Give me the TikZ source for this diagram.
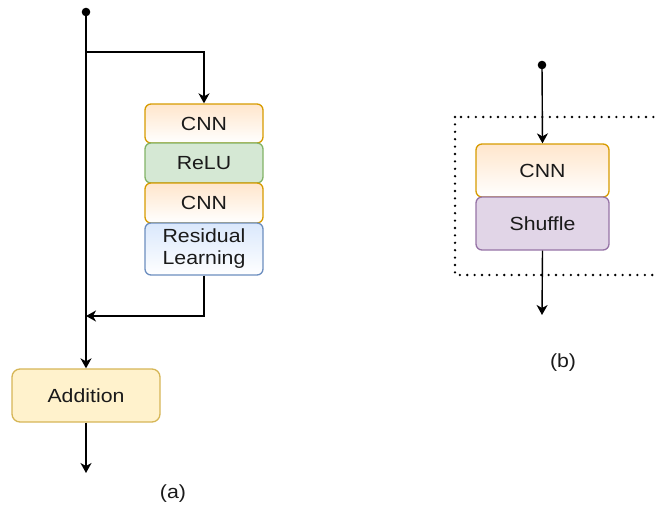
\documentclass[tikz,border=0pt]{standalone}
\usepackage{fontspec}
\setmainfont{Liberation Sans}
\usetikzlibrary{arrows.meta}
\definecolor{orF}{HTML}{FFE6CC}\definecolor{orS}{HTML}{D79B00}
\definecolor{grF}{HTML}{D5E8D4}\definecolor{grS}{HTML}{82B366}
\definecolor{blF}{HTML}{DAE8FC}\definecolor{blS}{HTML}{6C8EBF}
\definecolor{yeF}{HTML}{FFF2CC}\definecolor{yeS}{HTML}{D6B656}
\definecolor{puF}{HTML}{E1D5E7}\definecolor{puS}{HTML}{9673A6}
\definecolor{txt}{HTML}{1A1A1A}
\newcommand{\widetxt}[1]{\scalebox{1.12}[1]{#1}}
\begin{document}
\begin{tikzpicture}[x=1pt,y=-1pt,
  blk/.style={rectangle,rounded corners=6pt,line width=1.3pt,inner sep=0pt,
     font=\fontsize{19}{22}\selectfont,align=center,text=txt},
  orbox/.style={blk,draw=orS,top color=orF,bottom color=white},
  grbox/.style={blk,draw=grS,fill=grF},
  blbox/.style={blk,draw=blS,top color=blF,bottom color=white},
  yebox/.style={blk,draw=yeS,fill=yeF,rounded corners=8pt},
  pubox/.style={blk,draw=puS,fill=puF},
  con/.style={line width=1.4pt,-{Stealth[length=10pt,width=11pt,inset=3pt]}},
  lab/.style={font=\fontsize{19}{22}\selectfont,text=txt}]
\useasboundingbox (0,0) rectangle (656,511);
\clip (0,0) rectangle (656,511);
% (a)
\node[orbox,minimum width=118pt,minimum height=39pt] (cnn1) at (204,123.5) {\widetxt{CNN}};
\node[grbox,minimum width=118pt,minimum height=40pt] (relu) at (204,163) {\widetxt{ReLU}};
\node[orbox,minimum width=118pt,minimum height=40pt] (cnn2) at (204,203) {\widetxt{CNN}};
\node[blbox,minimum width=118pt,minimum height=52pt] (res) at (204,249) {\widetxt{Residual}\\\widetxt{Learning}};
\node[yebox,minimum width=148pt,minimum height=53pt] (add) at (86,395.5) {\widetxt{Addition}};
\coordinate (src) at (86,12);
\coordinate (split) at (86,52);
\coordinate (merge) at (86,316);
\coordinate (out) at (86,473);
\fill (src) circle (4.3pt);
\draw[con] (src) -- (add.north);
\draw[con] (split) -| (cnn1.north);
\draw[con] (res.south) |- (merge);
\draw[con] (add.south) -- (out);
\node[lab] (la) at (173,494) {\widetxt{(a)}};
% (b)
\draw[line width=2.6pt,dash pattern=on 0pt off 7.4pt,line cap=round] (455,117) rectangle (670,275);
\node[orbox,minimum width=133pt,minimum height=53pt] (cnnb) at (542.5,170.5) {\widetxt{CNN}};
\node[pubox,minimum width=133pt,minimum height=53pt] (shuf) at (542.5,223.5) {\widetxt{Shuffle}};
\coordinate (srcb) at (542,65);
\coordinate (outb) at (542,315);
\fill (srcb) circle (4.3pt);
\draw[con] (srcb) -- (cnnb.north);
\draw[con] (shuf.south) -- (outb);
\node[lab] (lb) at (563,363) {\widetxt{(b)}};
\end{tikzpicture}
\end{document}
